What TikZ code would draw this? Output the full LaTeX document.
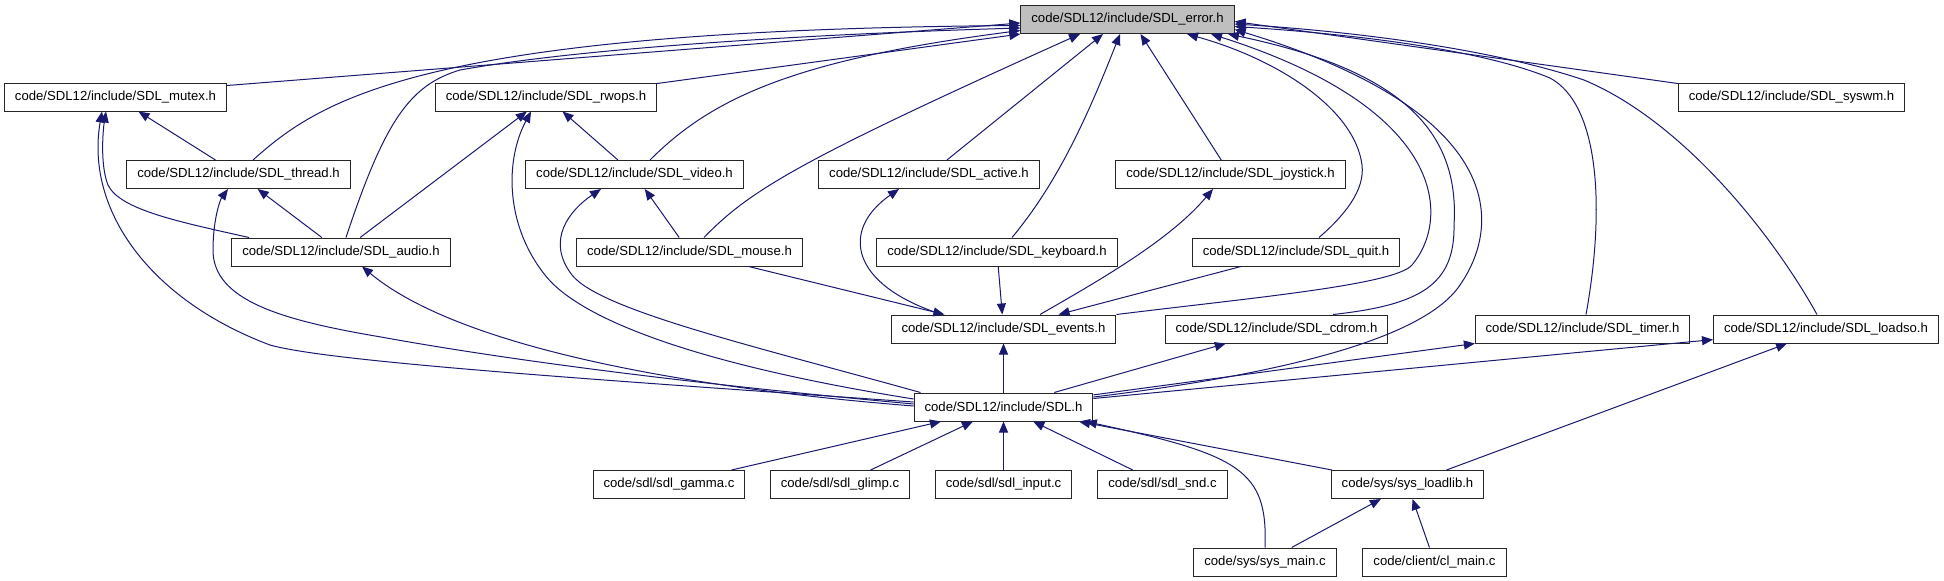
\documentclass[tikz,border=0pt]{standalone}
\usepackage{fontspec}
\setmainfont{Liberation Sans}
\usetikzlibrary{arrows.meta}
\definecolor{edgeblue}{HTML}{191970}
\definecolor{rootgray}{HTML}{BFBFBF}

\begin{document}
\begin{tikzpicture}[x=1pt,y=-1pt,
    file/.style={draw=black!85,line width=1pt,fill=white,minimum height=28pt,
      inner xsep=10.5pt,inner ysep=0pt,font=\fontsize{13.15pt}{15pt}\selectfont},
    root/.style={file,fill=rootgray},
    incl/.style={edgeblue,line width=1pt,-{Triangle[length=11pt,width=9pt]}}]
  \useasboundingbox (0,0) rectangle (1944,581);
  % included file
  \node[root] (error) at (1127.5,19.5) {code/SDL12/include/SDL\_error.h};
  % headers
  \node[file] (mutex) at (115.5,97) {code/SDL12/include/SDL\_mutex.h};
  \node[file] (rwops) at (546,97) {code/SDL12/include/SDL\_rwops.h};
  \node[file] (syswm) at (1791.5,97) {code/SDL12/include/SDL\_syswm.h};
  \node[file] (thread) at (238.5,174.5) {code/SDL12/include/SDL\_thread.h};
  \node[file] (video) at (634.5,174.5) {code/SDL12/include/SDL\_video.h};
  \node[file] (active) at (929,174.5) {code/SDL12/include/SDL\_active.h};
  \node[file] (joystick) at (1230.5,174.5) {code/SDL12/include/SDL\_joystick.h};
  \node[file] (audio) at (341,252) {code/SDL12/include/SDL\_audio.h};
  \node[file] (mouse) at (689.5,252) {code/SDL12/include/SDL\_mouse.h};
  \node[file] (keyboard) at (997,252) {code/SDL12/include/SDL\_keyboard.h};
  \node[file] (quit) at (1296,252) {code/SDL12/include/SDL\_quit.h};
  \node[file] (events) at (1003.5,329) {code/SDL12/include/SDL\_events.h};
  \node[file] (cdrom) at (1276.5,329) {code/SDL12/include/SDL\_cdrom.h};
  \node[file] (timer) at (1582.5,329) {code/SDL12/include/SDL\_timer.h};
  \node[file] (loadso) at (1826,329) {code/SDL12/include/SDL\_loadso.h};
  \node[file] (SDL) at (1003.5,407) {code/SDL12/include/SDL.h};
  % sources
  \node[file] (gamma) at (669,484.5) {code/sdl/sdl\_gamma.c};
  \node[file] (glimp) at (840,484.5) {code/sdl/sdl\_glimp.c};
  \node[file] (input) at (1003.5,484.5) {code/sdl/sdl\_input.c};
  \node[file] (snd) at (1162.5,484.5) {code/sdl/sdl\_snd.c};
  \node[file] (loadlib) at (1407.5,484.5) {code/sys/sys\_loadlib.h};
  \node[file] (sysmain) at (1265,562) {code/sys/sys\_main.c};
  \node[file] (clmain) at (1434.5,562) {code/client/cl\_main.c};

  % straight includes
  \foreach \a/\b in {thread/mutex,audio/thread,audio/rwops,video/rwops,
      mouse/video,mouse/events,keyboard/events,quit/events,SDL/events,
      SDL/cdrom,SDL/timer,SDL/loadso,gamma/SDL,glimp/SDL,input/SDL,snd/SDL,
      loadlib/SDL,loadlib/loadso,sysmain/loadlib,clmain/loadlib}{
    \draw[incl] (\a) -- (\b);
  }

  % into SDL_error.h
  \draw[incl] ([yshift=-3pt]mutex.north east) -- ([yshift=-3.5pt]error.west);
  \draw[incl] ([xshift=14.5pt]thread.north) .. controls (320,100) and (420,30) .. ([yshift=-6pt]error.west);
  \draw[incl] ([xshift=5pt]audio.north) .. controls (385,120) and (410,85) .. (460,70)
    .. controls (600,45) and (850,33) .. ([yshift=-8.5pt]error.west);
  \draw[incl] ([yshift=-1pt]rwops.north east) -- (error.south west);
  \draw[incl] ([xshift=15.5pt]video.north) .. controls (710,100) and (790,60) .. ([yshift=-11pt]error.west);
  \draw[incl] ([xshift=14.5pt]mouse.north) .. controls (750,190) and (800,160) .. ([xshift=-47.5pt]error.south);
  \draw[incl] (active) -- ([xshift=-24.5pt]error.south);
  \draw[incl] ([xshift=15pt]keyboard.north) .. controls (1060,180) and (1090,110) .. ([xshift=-7.5pt]error.south);
  \draw[incl] (joystick) -- ([xshift=13pt]error.south);
  \draw[incl] ([xshift=23pt]quit.north) .. controls (1345,215) and (1365,190) .. (1362,165)
    .. controls (1355,110) and (1280,60) .. ([xshift=59.5pt]error.south);
  \draw[incl] (events.north east) .. controls (1250,298) and (1395,285) .. (1412,265)
    .. controls (1450,220) and (1450,110) .. ([xshift=83.5pt]error.south);
  \draw[incl] ([xshift=56.5pt]cdrom.north) .. controls (1420,305) and (1455,285) .. (1454,225)
    .. controls (1460,130) and (1400,70) .. ([xshift=100.5pt]error.south);
  \draw[incl] ([yshift=10pt]SDL.east) .. controls (1250,378) and (1420,345) .. (1460,285)
    .. controls (1505,220) and (1500,110) .. ([yshift=-10pt]error.east);
  \draw[incl] ([xshift=3.5pt]timer.north) .. controls (1605,210) and (1600,105) .. (1550,78)
    .. controls (1470,45) and (1320,32) .. ([yshift=-7pt]error.east);
  \draw[incl] ([xshift=-9pt]loadso.north) .. controls (1770,230) and (1680,120) .. (1584,80)
    .. controls (1480,45) and (1330,30) .. ([yshift=-4.5pt]error.east);
  \draw[incl] ([yshift=-1pt]syswm.north west) -- ([yshift=-2pt]error.east);

  % into SDL_mutex.h, SDL_thread.h, SDL_audio.h
  \draw[incl] ([xshift=-92pt]audio.north) .. controls (180,222) and (120,210) .. (108,185)
    .. controls (100,165) and (103,130) .. ([xshift=-9.5pt]mutex.south);
  \draw[incl] ([yshift=5pt]SDL.west) .. controls (600,380) and (330,362) .. (270,345)
    .. controls (150,300) and (85,210) .. ([xshift=-13.5pt]mutex.south);
  \draw[incl] ([yshift=3pt]SDL.west) .. controls (650,380) and (480,355) .. (381,337)
    .. controls (280,320) and (213,300) .. (213,250)
    .. controls (213,220) and (220,200) .. ([xshift=-10.5pt]thread.south);
  \draw[incl] ([yshift=1pt]SDL.west) .. controls (650,385) and (450,340) .. ([xshift=21pt]audio.south);

  % into SDL_rwops.h, SDL_video.h
  \draw[incl] ([yshift=8pt]SDL.west) .. controls (700,365) and (580,320) .. (545,275)
    .. controls (505,225) and (505,160) .. ([xshift=-15pt]rwops.south);
  \draw[incl] ([xshift=7pt]SDL.north west) .. controls (750,345) and (600,310) .. (572,275)
    .. controls (545,240) and (570,210) .. ([xshift=-33.5pt]video.south);

  % into SDL_events.h
  \draw[incl] ([xshift=36.5pt]events.north) .. controls (1100,280) and (1170,240) .. ([xshift=-17.5pt]joystick.south);
  \draw[incl] ([xshift=-61.5pt]events.north) .. controls (850,285) and (840,230) .. ([xshift=-30pt]active.south);

  % sys_main.c
  \draw[incl] (sysmain.north) .. controls (1268,470) and (1240,455) .. (SDL.-10);
\end{tikzpicture}
\end{document}
